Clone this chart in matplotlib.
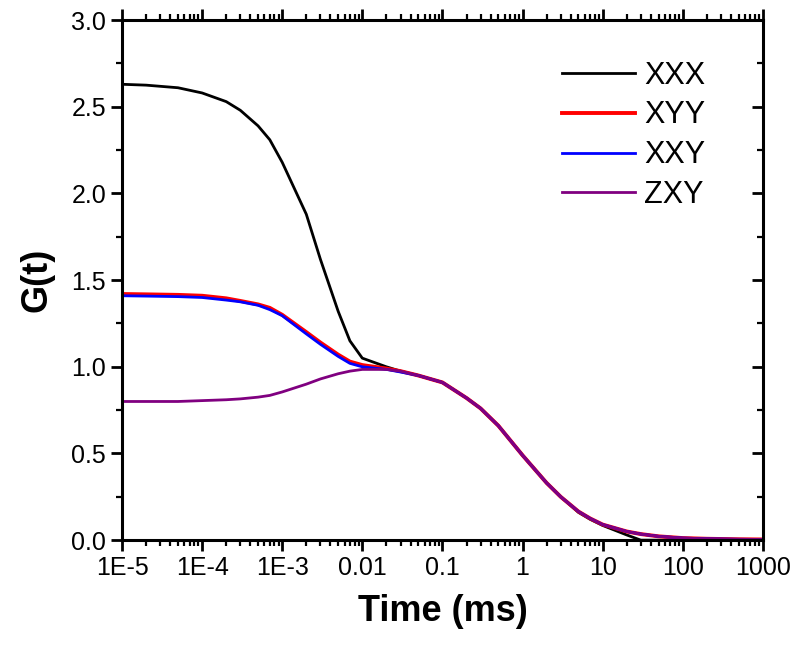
import numpy as np
import matplotlib
matplotlib.use('Agg')
import matplotlib.pyplot as plt
from matplotlib.ticker import LogLocator, MultipleLocator, FixedLocator, NullFormatter

plt.rcParams['font.family'] = ['Liberation Sans', 'DejaVu Sans']

# time points (ms)
t = [1e-5, 2e-5, 5e-5, 1e-4, 2e-4, 3e-4, 5e-4, 7e-4, 1e-3, 2e-3, 3e-3, 5e-3, 7e-3,
     1e-2, 2e-2, 3e-2, 5e-2, 0.1, 0.2, 0.3, 0.5, 1, 2, 3, 5, 7, 10, 20, 30, 50,
     100, 200, 500, 1000]

# shared tail from 0.1 ms onward
tail = [0.91, 0.82, 0.76, 0.66, 0.49, 0.33, 0.25, 0.165, 0.125, 0.09, 0.05,
        0.035, 0.022, 0.012, 0.008, 0.005, 0.004]

g_xxx = [2.63, 2.625, 2.61, 2.58, 2.53, 2.48, 2.39, 2.31, 2.18, 1.88, 1.62, 1.32,
         1.15, 1.05, 1.00, 0.975, 0.95, 0.91, 0.82, 0.76, 0.66, 0.49, 0.33, 0.25,
         0.16, 0.12, 0.085, 0.03, 0.0, 0.0, 0.0, 0.0, 0.0, 0.0]
g_xyy = [1.42, 1.418, 1.415, 1.41, 1.395, 1.38, 1.36, 1.34, 1.30, 1.20, 1.14, 1.07,
         1.03, 1.01, 0.99, 0.975, 0.95] + tail
g_xxy = [1.41, 1.408, 1.405, 1.40, 1.385, 1.375, 1.355, 1.33, 1.295, 1.19, 1.13,
         1.06, 1.02, 1.00, 0.985, 0.97, 0.95] + tail
g_zxy = [0.80, 0.80, 0.80, 0.805, 0.81, 0.815, 0.825, 0.835, 0.855, 0.90, 0.93,
         0.96, 0.975, 0.985, 0.985, 0.975, 0.95] + tail

labels = ['XXX', 'XYY', 'XXY', 'ZXY']
colors = ['black', 'red', 'blue', '#800080']
xtick_vals = [1e-5, 1e-4, 1e-3, 1e-2, 0.1, 1, 10, 100, 1000]
xtick_labels = ['1E-5', '1E-4', '1E-3', '0.01', '0.1', '1', '10', '100', '1000']

fig = plt.figure(figsize=(8, 6.5), dpi=100)
ax = fig.add_axes([0.1525, 0.169, 0.801, 0.8])

widths = [2.0, 2.8, 2.0, 2.0]
for g, lab, c, w in zip([g_xxx, g_xyy, g_xxy, g_zxy], labels, colors, widths):
    ax.plot(t, g, color=c, lw=w, label=lab)

ax.set_xscale('log')
ax.set_xlim(1e-5, 1000)
ax.set_ylim(0, 3.0)

ax.xaxis.set_major_locator(FixedLocator(xtick_vals))
ax.set_xticklabels(xtick_labels)
ax.xaxis.set_minor_locator(LogLocator(base=10, subs=np.arange(2, 10), numticks=100))
ax.xaxis.set_minor_formatter(NullFormatter())
ax.yaxis.set_major_locator(MultipleLocator(0.5))
ax.yaxis.set_minor_locator(MultipleLocator(0.25))

for s in ax.spines.values():
    s.set_linewidth(2.2)

ax.tick_params(axis='both', which='major', length=8, width=2, labelsize=18, direction='out')
ax.tick_params(axis='both', which='minor', length=4, width=1.6, direction='out')
ax.tick_params(axis='x', which='both', top=True)
ax.tick_params(axis='y', which='both', right=True)

# right side ticks point inward
for tk in ax.yaxis.get_major_ticks() + ax.yaxis.get_minor_ticks():
    tk.tick2line.set_marker(matplotlib.lines.TICKLEFT)

ax.set_xlabel('Time (ms)', fontsize=26, fontweight='bold', labelpad=10)
ax.set_ylabel('G(t)', fontsize=26, fontweight='bold', labelpad=12)

ax.legend(loc='upper right', bbox_to_anchor=(0.953, 0.975), frameon=False, fontsize=22,
          handlelength=2.4, labelspacing=0.32, handletextpad=0.3)

fig.savefig('out.png', dpi=100)
